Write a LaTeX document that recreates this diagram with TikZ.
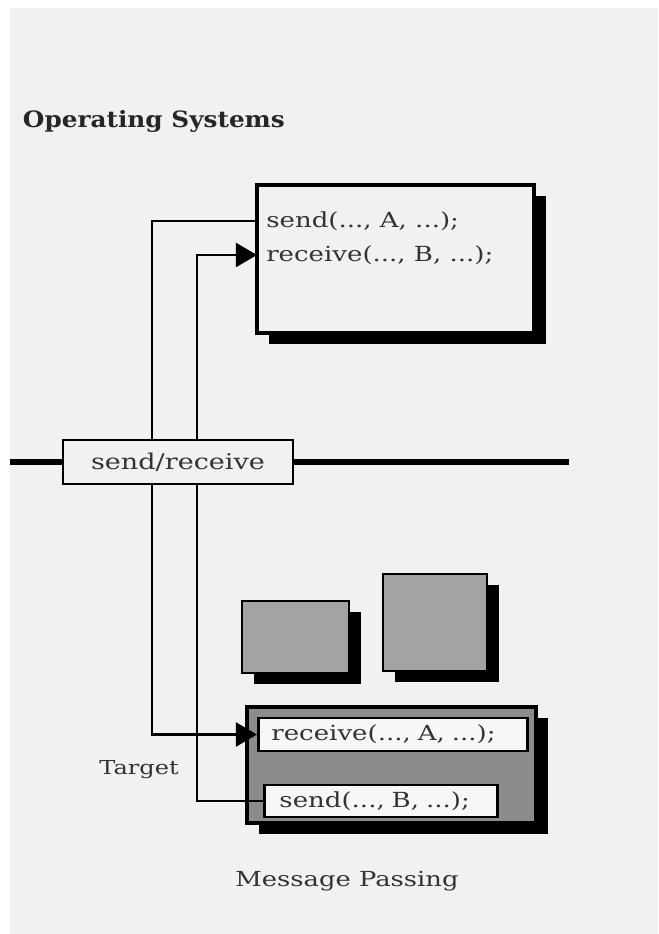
\documentclass[tikz,border=0pt]{standalone}
\usepackage{fontspec}
\setmainfont{DejaVu Serif}
\newfontfamily\labelfont{DejaVu Serif}[FakeStretch=1.25]
\newfontfamily\headfont{DejaVu Serif}[FakeStretch=1.1]
\usetikzlibrary{positioning}
\usetikzlibrary{arrows.meta}
\usetikzlibrary{shadows}
\definecolor{paper}{gray}{0.945}
\definecolor{procgray}{gray}{0.55}
\definecolor{idlegray}{gray}{0.64}
\definecolor{slot}{gray}{0.97}

\tikzset{
  lbl/.style={font=\labelfont\fontsize{14.8}{17}\selectfont, text=black!80},
  proc/.style={draw, line width=2.4pt,
    drop shadow={shadow xshift=0.3cm, shadow yshift=-0.27cm, fill=black, opacity=1}},
  call/.style={lbl, anchor=west, inner ysep=1pt, align=left},
  slotbox/.style={call, draw, line width=2pt, fill=slot},
  wire/.style={line width=2pt},
  msg/.style={wire, -{Triangle[length=15pt,width=17pt]}},
}

\begin{document}
\begin{tikzpicture}[x=0.025cm, y=-0.025cm]
\useasboundingbox (0,0) rectangle (658,934);
\fill[paper] (10,8) rectangle (658,934);

\node[anchor=west, font=\headfont\bfseries\fontsize{16}{19}\selectfont, text=black!85] (title) at (18,121) {Operating Systems};

% sending process
\node[proc, fill=paper, minimum width=6.925cm, minimum height=3.7cm] (src) at (395.5,259) {};
\node[call, inner xsep=0.225cm] (sendA) at (257,221) {send(..., A, ...);};
\node[call, inner xsep=0.225cm] (recvB) at (257,255) {receive(..., B, ...);};

% other processes
\node[proc, fill=idlegray, line width=1.8pt, minimum width=2.675cm, minimum height=1.8cm] (idleA) at (295.5,637) {};
\node[proc, fill=idlegray, line width=1.8pt, minimum width=2.6cm, minimum height=2.425cm] (idleB) at (435,622.5) {};

% target process
\node[proc, fill=procgray, minimum width=7.225cm, minimum height=2.9cm] (dst) at (391.5,765) {};
\node[slotbox, minimum height=0.825cm, text width=6.075cm, inner xsep=0.325cm] (recvA) at (257,734.5) {receive(..., A, ...);};
\node[slotbox, minimum height=0.8cm, text width=5.075cm, inner xsep=0.375cm] (sendB) at (263,801) {send(..., B, ...);};

\node[lbl, font=\labelfont\fontsize{13.7}{16}\selectfont] (target) at (139,770) {Target};
\node[lbl, font=\labelfont\fontsize{14.7}{17}\selectfont] (caption) at (347,881) {Message Passing};

% messages
\draw[msg] (sendA.west) -- ++(-105,0) |- (recvA.west);
\draw[msg] (sendB.west) -- ++(-66,0) |- (recvB.west);

% kernel
\node[lbl, draw, line width=2pt, fill=paper, minimum width=5.75cm, minimum height=1.1cm,
  font=\labelfont\fontsize{15.4}{18}\selectfont] (kernel) at (178,462) {send/receive};
\coordinate (railL) at (10,462);
\coordinate (railR) at (569,462);
\draw[line width=4.5pt] (railL) -- (kernel.west);
\draw[line width=4.5pt] (kernel.east) -- (railR);

\end{tikzpicture}
\end{document}
